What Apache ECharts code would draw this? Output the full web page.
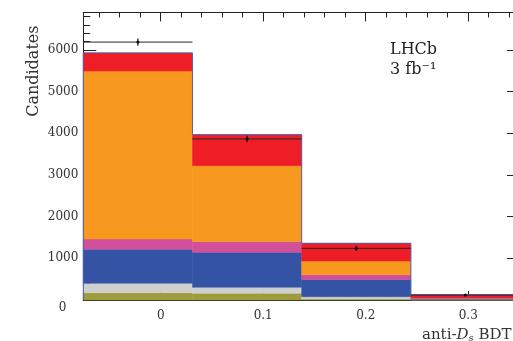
<!DOCTYPE html>
<html><head><meta charset="utf-8">
<script src="https://cdn.jsdelivr.net/npm/echarts@6/dist/echarts.min.js"></script>
<style>html,body{margin:0;padding:0;background:#fff}#c{width:513px;height:341px}</style>
</head><body><div id="c"></div><script>
// bin edges of the anti-Ds BDT histogram
const binEdges = [-0.0755, 0.031, 0.1375, 0.244, 0.3505];
// stacked components, bottom to top (per bin)
const olive  = [175, 160, 25, 5];
const grey   = [225, 145, 55, 10];
const blue   = [817, 840, 410, 25];
const pink   = [247, 255, 115, 5];
const orange = [4032, 1824, 331, 5];
const red    = [434, 744, 424, 75];
// data points
const dataCounts = [6190, 3865, 1240, 118];
const dataErrors = [85, 80, 60, 25];
// ticks
const xMajorTicks = [0, 0.1, 0.2, 0.3];
const xMinorTicks = [-0.06,-0.04,-0.02,0.02,0.04,0.06,0.08,0.12,0.14,0.16,0.18,0.22,0.24,0.26,0.28,0.32,0.34];
const yMajorTicks = [0,1000,2000,3000,4000,5000,6000];
const yMinorTicks = [200,400,600,800,1200,1400,1600,1800,2200,2400,2600,2800,3200,3400,3600,3800,4200,4400,4600,4800,5200,5400,5600,5800,6200,6400,6600,6800];

const components = [
  {name:'olive', vals: olive, color:'#9d9d3d'},
  {name:'grey', vals: grey, color:'#cfcfcf'},
  {name:'blue', vals: blue, color:'#3453a5'},
  {name:'pink', vals: pink, color:'#d2509b'},
  {name:'orange', vals: orange, color:'#f7991f'},
  {name:'red', vals: red, color:'#ee1d26'}
];

const FONT = 'DejaVu Serif';
const TXT = '#333';
const series = [];
let bottoms = [0,0,0,0];
components.forEach(c => {
  const b = bottoms.slice();
  series.push({
    type:'custom', name:c.name, silent:true, animation:false,
    data: c.vals.map((v,i)=>[binEdges[i], binEdges[i+1], b[i], b[i]+v]),
    encode:{x:[0,1], y:[2,3]},
    renderItem:(params, api) => {
      const p0 = api.coord([api.value(0), api.value(3)]);
      const p1 = api.coord([api.value(1), api.value(2)]);
      return {type:'rect', shape:{x:p0[0], y:p0[1], width:p1[0]-p0[0], height:p1[1]-p0[1]},
        style:{fill:c.color, stroke:c.color, lineWidth:0.5}};
    }
  });
  bottoms = bottoms.map((x,i)=>x+c.vals[i]);
});
const totals = bottoms;
// blue outline of the total
series.push({
  type:'custom', silent:true, animation:false,
  data: totals.map((t,i)=>[binEdges[i], binEdges[i+1], i===0?0:totals[i-1], t]),
  encode:{x:[0,1], y:[2,3]},
  renderItem:(params, api) => {
    const a = api.coord([api.value(0), api.value(2)]);
    const b = api.coord([api.value(0), api.value(3)]);
    const c = api.coord([api.value(1), api.value(3)]);
    return {type:'polyline', shape:{points:[a,b,c]}, style:{stroke:'#4a64b4', lineWidth:1, fill:null}};
  }
});
// data points with error bars
series.push({
  type:'custom', silent:true, animation:false,
  data: dataCounts.map((v,i)=>[binEdges[i], binEdges[i+1], v, dataErrors[i]]),
  encode:{x:[0,1], y:2},
  renderItem:(params, api) => {
    const xl = api.value(0), xr = api.value(1), y = api.value(2), e = api.value(3);
    const xc = (xl+xr)/2;
    const l = api.coord([xl, y]), r = api.coord([xr, y]);
    const lo = api.coord([xc, y-e]), hi = api.coord([xc, y+e]);
    const c = api.coord([xc, y]);
    return {type:'group', children:[
      {type:'line', shape:{x1:l[0], y1:l[1], x2:r[0], y2:r[1]}, style:{stroke:'#2a2a2a', lineWidth:1}},
      {type:'line', shape:{x1:lo[0], y1:lo[1], x2:hi[0], y2:hi[1]}, style:{stroke:'#111', lineWidth:1.2}},
      {type:'circle', shape:{cx:c[0], cy:c[1], r:1.6}, style:{fill:'#111'}}
    ]};
  }
});

const axLine = {show:true, onZero:false, lineStyle:{color:'#222', width:1}};
function xAx(pos, ticks, len, labels, extra) {
  return Object.assign({
    type:'value', position:pos, min:binEdges[0], max:binEdges[4],
    axisLine: axLine, splitLine:{show:false},
    axisTick:{show:true, inside:true, length:len, customValues:ticks, lineStyle:{color:'#222'}},
    axisLabel: labels ? {show:true, customValues:ticks, margin:10, fontFamily:FONT, fontSize:12, color:TXT,
      formatter: v => v===0 ? '0' : v.toFixed(1)} : {show:false, customValues:ticks}
  }, extra||{});
}
function yAx(pos, ticks, len, labels, extra) {
  return Object.assign({
    type:'value', position:pos, min:0, max:6900,
    axisLine: axLine, splitLine:{show:false},
    axisTick:{show:true, inside:true, length:len, customValues:ticks, lineStyle:{color:'#222'}},
    axisLabel: labels ? {show:true, customValues:ticks, margin:5, fontFamily:FONT, fontSize:12, color:TXT,
      formatter: v => v===0 ? '{z|0}' : String(v),
      rich:{z:{padding:[15,12,0,0], fontFamily:FONT, fontSize:12, color:TXT}}} : {show:false, customValues:ticks}
  }, extra||{});
}

const option = {
  animation:false,
  grid:{left:83.3, top:12.5, width:436.7, height:287.5, containLabel:false, outerBoundsMode:'none'},
  xAxis:[
    xAx('bottom', xMajorTicks, 9, true, {
      name:'anti-{i|D}{s|s} BDT', nameLocation:'end', nameGap:-98,
      nameTextStyle:{align:'left', verticalAlign:'top', padding:[28,0,0,0], fontFamily:FONT, fontSize:15, color:TXT,
        rich:{i:{fontFamily:FONT, fontStyle:'italic', fontSize:15, color:TXT},
              s:{fontFamily:FONT, fontStyle:'italic', fontSize:10, color:TXT, verticalAlign:'bottom', padding:[2,0,0,0]}}}
    }),
    xAx('bottom', xMinorTicks, 5, false),
    xAx('top', xMajorTicks, 9, false),
    xAx('top', xMinorTicks, 5, false)
  ],
  yAxis:[
    yAx('left', yMajorTicks, 13, true, {
      name:'Candidates', nameLocation:'end', nameGap:-13, nameRotate:90,
      nameTextStyle:{align:'right', verticalAlign:'bottom', padding:[0,0,41,0], fontFamily:FONT, fontSize:16, color:TXT}
    }),
    yAx('left', yMinorTicks, 7, false),
    yAx('right', yMajorTicks, 13, false),
    yAx('right', yMinorTicks, 7, false)
  ],
  graphic:[
    {type:'text', left:390, top:42, style:{text:'LHCb', font:'16px "DejaVu Serif"', fill:'#222'}},
    {type:'text', left:390, top:62, style:{text:'3 fb\u207B\u00B9', font:'16px "DejaVu Serif"', fill:'#222'}}
  ],
  series: series
};
const chart = echarts.init(document.getElementById('c'), null, {renderer:'canvas'});
chart.setOption(option);
</script></body></html>
